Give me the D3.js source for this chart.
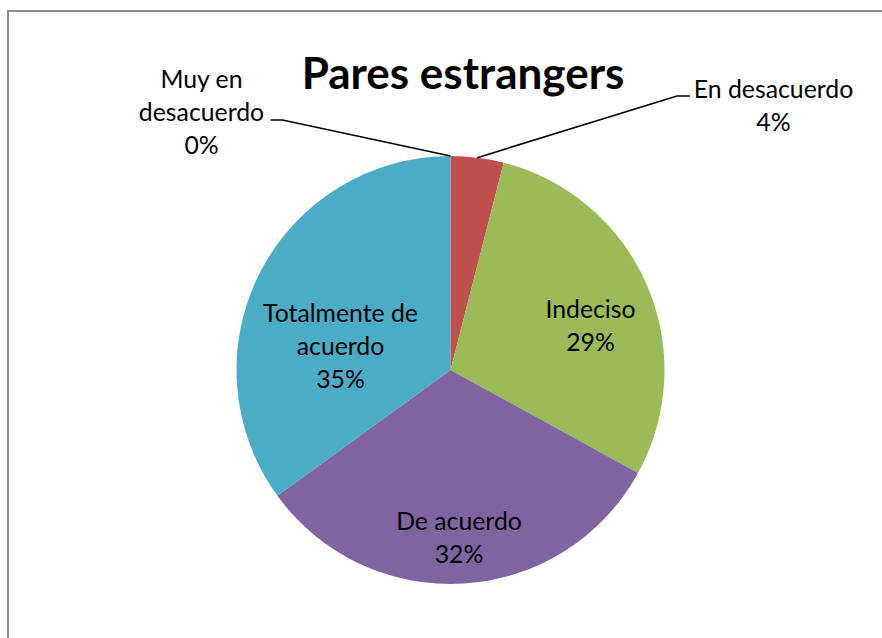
<!DOCTYPE html>
<html>
<head>
<meta charset="utf-8">
<script src="https://cdn.jsdelivr.net/npm/d3@7"></script>
<style>
  html, body { margin: 0; padding: 0; background: #fff; }
  svg { display: block; }
  text { font-family: Lato, "Open Sans", sans-serif; fill: #000; }
</style>
</head>
<body>
<svg id="chart" width="882" height="638"></svg>
<script>
// Survey answers for "Pares estrangers"
const categories = ["Muy en desacuerdo", "En desacuerdo", "Indeciso", "De acuerdo", "Totalmente de acuerdo"];
const percents = [0, 4, 29, 32, 35];
const labelLines = [
  ["Muy en", "desacuerdo"],
  ["En desacuerdo"],
  ["Indeciso"],
  ["De acuerdo"],
  ["Totalmente de", "acuerdo"]
];
const sliceColors = ["#4F81BD", "#C0504D", "#9BBB59", "#8064A2", "#4BACC6"];
const titleText = "Pares estrangers";

const W = 882, H = 638;
const cx = 450.5, cy = 370, R = 214;
const lineH = 32.8;

// label anchor: centre x and first baseline, relative to the pie centre
const labelPos = [
  { x: -249, y: -282 },
  { x: 323, y: -272 },
  { x: 140, y: -52 },
  { x: 8.5, y: 160 },
  { x: -110, y: -48 }
];

const svg = d3.select("#chart");

// chart frame (extends past the right/bottom edges)
svg.append("rect")
  .attr("x", 8).attr("y", 11)
  .attr("width", W + 20).attr("height", H + 20)
  .attr("fill", "#fff")
  .attr("stroke", "#8c8c8c")
  .attr("stroke-width", 2);

svg.append("text")
  .attr("x", 463).attr("y", 89)
  .attr("text-anchor", "middle")
  .style("font-size", "44px")
  .style("font-weight", "bold")
  .text(titleText);

const data = categories.map((c, i) => ({ name: c, value: percents[i], i }));

const pie = d3.pie().value(d => d.value).sort(null);
const arc = d3.arc().innerRadius(0).outerRadius(R);
const arcs = pie(data);

const g = svg.append("g").attr("transform", `translate(${cx},${cy})`);

g.selectAll("path.slice")
  .data(arcs)
  .join("path")
  .attr("class", "slice")
  .attr("d", arc)
  .attr("fill", d => sliceColors[d.data.i]);

// leader lines for the labels placed outside the pie
const edgePoint = d => {
  const a = (d.startAngle + d.endAngle) / 2;
  return [R * Math.sin(a), -R * Math.cos(a)];
};
const leaders = [
  { i: 0, knee: [-168, -250], end: [-180, -250] },
  { i: 1, knee: [226.5, -274], end: [239.5, -274] }
];
leaders.forEach(l => {
  const p = edgePoint(arcs[l.i]);
  g.append("path")
    .attr("d", d3.line()([p, l.knee, l.end]))
    .attr("fill", "none")
    .attr("stroke", "#000")
    .attr("stroke-width", 1.6);
});

// data labels: category name + percentage
arcs.forEach(d => {
  const pos = labelPos[d.data.i];
  const lines = labelLines[d.data.i].concat([d3.format(".0f")(d.data.value) + "%"]);
  const t = g.append("text")
    .attr("text-anchor", "middle")
    .style("font-size", "24.8px");
  lines.forEach((ln, k) => {
    t.append("tspan")
      .attr("x", pos.x)
      .attr("y", pos.y + k * lineH)
      .text(ln);
  });
});
</script>
</body>
</html>
